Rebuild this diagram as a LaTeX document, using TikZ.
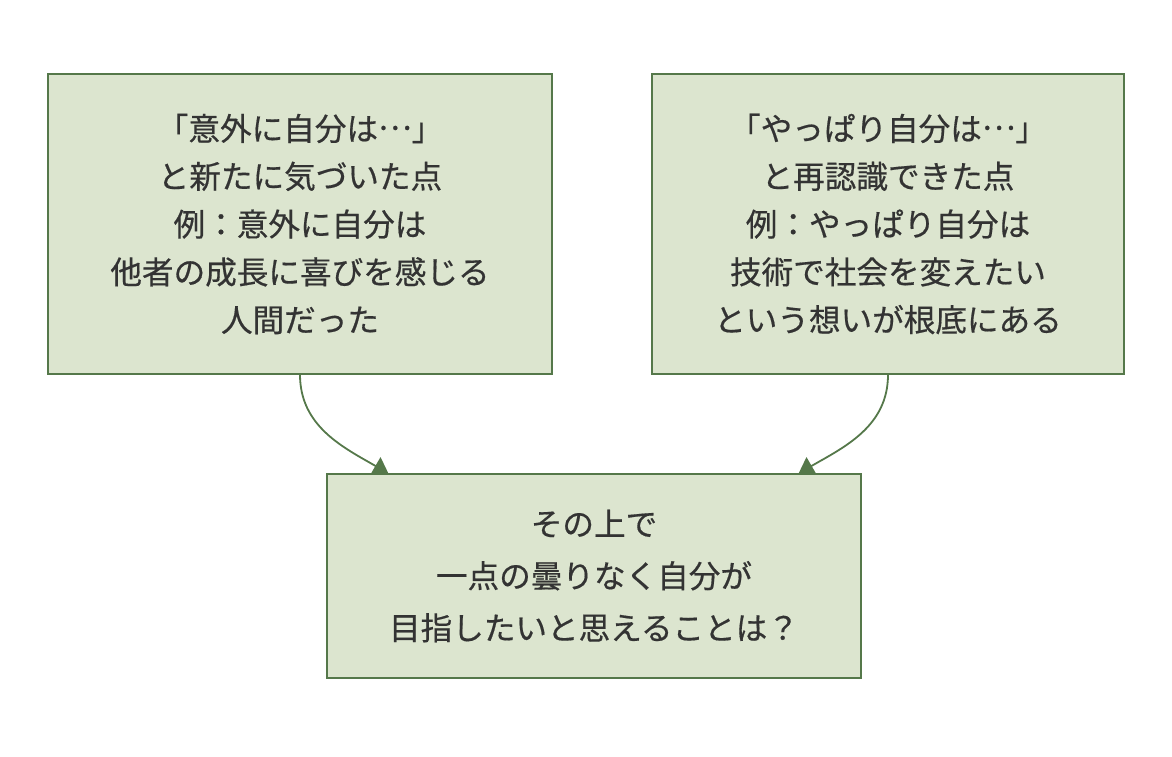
\documentclass[tikz,border=0pt]{standalone}
\usepackage{fontspec}
\newfontfamily\cjk[FakeBold=0.5]{Noto Sans CJK JP}
\newcommand{\myell}{\raisebox{0.34em}{…}}
\usetikzlibrary{arrows.meta}
\definecolor{boxfill}{HTML}{DCE5CF}
\definecolor{boxdraw}{HTML}{55784A}
\definecolor{txt}{HTML}{333333}
\tikzset{
  box/.style={draw=boxdraw, fill=boxfill, line width=1.2pt, align=center, text=txt, inner sep=0pt},
  conn/.style={draw=boxdraw, line width=1.8pt, -{Triangle[length=15pt,width=20pt]}}
}
\begin{document}
\begin{tikzpicture}[x=1pt,y=-1pt]
\useasboundingbox (0,0) rectangle (1172,756);
\node[box, minimum width=504pt, minimum height=300pt, font=\cjk\fontsize{31.6}{47.8}\selectfont] (left) at (300,224)
  {「意外に自分は\myell」\\と新たに気づいた点\\例：意外に自分は\\他者の成長に喜びを感じる\\人間だった};
\node[box, minimum width=472pt, minimum height=300pt, font=\cjk\fontsize{31.6}{47.8}\selectfont] (right) at (888,224)
  {「やっぱり自分は\myell」\\と再認識できた点\\例：やっぱり自分は\\技術で社会を変えたい\\という想いが根底にある};
\node[box, minimum width=534pt, minimum height=204pt, font=\cjk\fontsize{31.6}{52}\selectfont] (bottom) at (594,576)
  {その上で\\一点の曇りなく自分が\\目指したいと思えることは？};
\draw[conn] (left.south) to[out=-90,in=150] ([xshift=62pt]bottom.north west);
\draw[conn] (right.south) to[out=-90,in=30] ([xshift=-63pt]bottom.north east);
\end{tikzpicture}
\end{document}
